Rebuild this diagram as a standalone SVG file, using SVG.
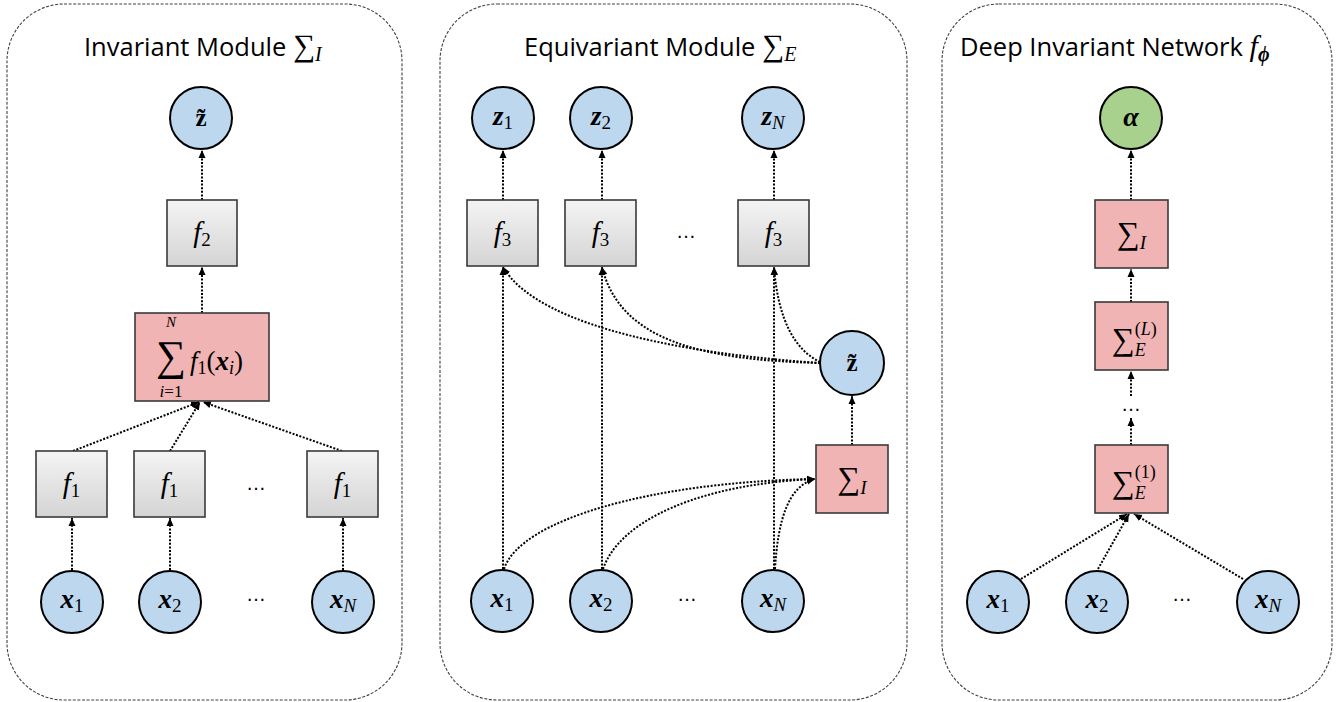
<svg xmlns="http://www.w3.org/2000/svg" width="1341" height="702" viewBox="0 0 1341 702">
<defs>
<linearGradient id="gray" x1="0" y1="0" x2="0" y2="1">
<stop offset="0" stop-color="#f4f4f4"/>
<stop offset="1" stop-color="#d4d4d4"/>
</linearGradient>
<marker id="arr" markerUnits="userSpaceOnUse" markerWidth="10" markerHeight="8" refX="8" refY="4" orient="auto">
<path d="M0,0.5 L8,4 L0,7.5 z" fill="#000"/>
</marker>
<style>
.panel{fill:#fff;stroke:#404040;stroke-width:1.1;stroke-dasharray:3 1.6}
.title{font-family:"Open Sans","Liberation Sans",sans-serif;font-size:25.5px;fill:#000}
.m{font-family:"Liberation Serif","DejaVu Serif",serif;fill:#000}
.it{font-style:italic}
.bi{font-style:italic;font-weight:bold}
.bd{font-weight:bold}
.gbox{fill:url(#gray);stroke:#3a3a3a;stroke-width:1.6}
.pbox{fill:#f0b4b4;stroke:#3a3a3a;stroke-width:1.6}
.blue{fill:#bdd7ee;stroke:#000;stroke-width:2}
.green{fill:#a9d18e;stroke:#000;stroke-width:2}
.c{fill:none;stroke:#000;stroke-width:2;stroke-dasharray:2 1.6;marker-end:url(#arr)}
.dots{font-family:"Liberation Sans",sans-serif;font-size:20px;fill:#000}
</style>
</defs>

<rect class="panel" x="7" y="4" width="395" height="696" rx="57" ry="57"/>
<rect class="panel" x="440" y="4" width="467" height="696" rx="57" ry="57"/>
<rect class="panel" x="942" y="4" width="390" height="696" rx="57" ry="57"/>

<text class="title" x="84" y="56">Invariant Module <tspan class="m" font-size="31">∑</tspan><tspan class="m it" font-size="20" dy="5">I</tspan></text>
<text class="title" x="524" y="56">Equivariant Module <tspan class="m" font-size="31">∑</tspan><tspan class="m it" font-size="20" dy="5">E</tspan></text>
<text class="title" x="960" y="56">Deep Invariant Network <tspan class="m it" font-size="30">f</tspan><tspan class="m bi" font-size="20" dy="5">ϕ</tspan></text>

<g id="connectors">
<!-- panel 1 -->
<path class="c" d="M72,570 L72,518"/>
<path class="c" d="M170,570 L170,518"/>
<path class="c" d="M343,570 L343,518"/>
<path class="c" d="M73,451 L199,402"/>
<path class="c" d="M170,451 L200,402"/>
<path class="c" d="M342,451 L203,402"/>
<path class="c" d="M202,313 L202,267"/>
<path class="c" d="M202,200 L202,150"/>
<!-- panel 2 -->
<path class="c" d="M503,569 L503,267"/>
<path class="c" d="M602,569 L602,267"/>
<path class="c" d="M774,569 L774,267"/>
<path class="c" d="M504,569 C520,520 650,482 815,479"/>
<path class="c" d="M603,569 C620,520 700,484 815,479"/>
<path class="c" d="M775,569 C778,520 788,486 815,479"/>
<path class="c" d="M852,445 L852,396"/>
<path class="c" d="M820,363 C700,355 540,330 503,267"/>
<path class="c" d="M820,363 C700,360 620,340 602,267"/>
<path class="c" d="M820,362 C795,350 778,320 774,267"/>
<path class="c" d="M503,200 L503,150"/>
<path class="c" d="M602,200 L602,150"/>
<path class="c" d="M774,200 L774,150"/>
<!-- panel 3 -->
<path class="c" d="M1021,579 L1127,514"/>
<path class="c" d="M1098,569 L1129,514"/>
<path class="c" d="M1243,579 L1134,514"/>
<path class="c" d="M1131,445 L1131,418"/>
<path class="c" d="M1131,396 L1131,371"/>
<path class="c" d="M1131,302 L1131,269"/>
<path class="c" d="M1131,200 L1131,150"/>
</g>

<!-- Panel 1 nodes -->
<g id="p1-ztilde"><circle class="blue" cx="201" cy="118" r="31"/><text class="m bd" x="201" y="126" font-size="25" text-anchor="middle">z̃</text></g>
<g id="p1-f2"><rect class="gbox" x="167" y="200" width="70" height="66"/><text class="m" x="202" y="242" font-size="29" text-anchor="middle"><tspan class="it">f</tspan><tspan font-size="19" dy="4">2</tspan></text></g>
<g id="p1-sum"><rect class="pbox" x="135" y="313" width="134" height="88"/>
<text class="m" text-anchor="middle"><tspan class="it" x="171" y="327" font-size="15">N</tspan><tspan x="171" y="370" font-size="42">∑</tspan><tspan x="171" y="397" font-size="17"><tspan class="it">i</tspan>=1</tspan></text>
<text class="m" x="190" y="370" font-size="27"><tspan class="it">f</tspan><tspan font-size="18" dy="4">1</tspan><tspan dy="-4">(</tspan><tspan class="bi">x</tspan><tspan class="it" font-size="18" dy="4">i</tspan><tspan dy="-4">)</tspan></text></g>
<g id="p1-f1a"><rect class="gbox" x="36" y="451" width="71" height="66"/><text class="m" x="71.5" y="493" font-size="29" text-anchor="middle"><tspan class="it">f</tspan><tspan font-size="19" dy="4">1</tspan></text></g>
<g id="p1-f1b"><rect class="gbox" x="134" y="451" width="71" height="66"/><text class="m" x="169.5" y="493" font-size="29" text-anchor="middle"><tspan class="it">f</tspan><tspan font-size="19" dy="4">1</tspan></text></g>
<g id="p1-f1n"><rect class="gbox" x="307" y="451" width="71" height="66"/><text class="m" x="342.5" y="493" font-size="29" text-anchor="middle"><tspan class="it">f</tspan><tspan font-size="19" dy="4">1</tspan></text></g>
<g id="p1-x1"><circle class="blue" cx="72" cy="602" r="31"/><text class="m" x="72" y="608" font-size="27" text-anchor="middle"><tspan class="bi">x</tspan><tspan font-size="19" dy="4">1</tspan></text></g>
<g id="p1-x2"><circle class="blue" cx="170" cy="602" r="31"/><text class="m" x="170" y="608" font-size="27" text-anchor="middle"><tspan class="bi">x</tspan><tspan font-size="19" dy="4">2</tspan></text></g>
<g id="p1-xn"><circle class="blue" cx="343" cy="602" r="31"/><text class="m" x="343" y="608" font-size="27" text-anchor="middle"><tspan class="bi">x</tspan><tspan class="it" font-size="19" dy="4">N</tspan></text></g>
<text class="dots" x="256" y="490" text-anchor="middle">…</text>
<text class="dots" x="256" y="601" text-anchor="middle">…</text>

<!-- Panel 2 nodes -->
<g id="p2-z1"><circle class="blue" cx="503" cy="118" r="31"/><text class="m" x="503" y="125" font-size="27" text-anchor="middle"><tspan class="bi">z</tspan><tspan font-size="19" dy="4">1</tspan></text></g>
<g id="p2-z2"><circle class="blue" cx="601" cy="118" r="31"/><text class="m" x="601" y="125" font-size="27" text-anchor="middle"><tspan class="bi">z</tspan><tspan font-size="19" dy="4">2</tspan></text></g>
<g id="p2-zn"><circle class="blue" cx="773" cy="118" r="31"/><text class="m" x="773" y="125" font-size="27" text-anchor="middle"><tspan class="bi">z</tspan><tspan class="it" font-size="19" dy="4">N</tspan></text></g>
<g id="p2-f3a"><rect class="gbox" x="467" y="200" width="71" height="66"/><text class="m" x="502.5" y="242" font-size="29" text-anchor="middle"><tspan class="it">f</tspan><tspan font-size="19" dy="4">3</tspan></text></g>
<g id="p2-f3b"><rect class="gbox" x="565" y="200" width="71" height="66"/><text class="m" x="600.5" y="242" font-size="29" text-anchor="middle"><tspan class="it">f</tspan><tspan font-size="19" dy="4">3</tspan></text></g>
<g id="p2-f3n"><rect class="gbox" x="738" y="200" width="71" height="66"/><text class="m" x="773.5" y="242" font-size="29" text-anchor="middle"><tspan class="it">f</tspan><tspan font-size="19" dy="4">3</tspan></text></g>
<text class="dots" x="686" y="238" text-anchor="middle">…</text>
<g id="p2-ztilde"><circle class="blue" cx="852" cy="363" r="32"/><text class="m bd" x="852" y="371" font-size="25" text-anchor="middle">z̃</text></g>
<g id="p2-sumI"><rect class="pbox" x="816" y="445" width="72" height="68"/><text class="m" x="852" y="489" font-size="32" text-anchor="middle">∑<tspan class="it" font-size="19" dy="5">I</tspan></text></g>
<g id="p2-x1"><circle class="blue" cx="502" cy="601" r="31"/><text class="m" x="502" y="607" font-size="27" text-anchor="middle"><tspan class="bi">x</tspan><tspan font-size="19" dy="4">1</tspan></text></g>
<g id="p2-x2"><circle class="blue" cx="601" cy="601" r="31"/><text class="m" x="601" y="607" font-size="27" text-anchor="middle"><tspan class="bi">x</tspan><tspan font-size="19" dy="4">2</tspan></text></g>
<g id="p2-xn"><circle class="blue" cx="773" cy="601" r="31"/><text class="m" x="773" y="607" font-size="27" text-anchor="middle"><tspan class="bi">x</tspan><tspan class="it" font-size="19" dy="4">N</tspan></text></g>
<text class="dots" x="687" y="601" text-anchor="middle">…</text>

<!-- Panel 3 nodes -->
<g id="p3-alpha"><circle class="green" cx="1131" cy="118" r="31"/><text class="m bi" x="1131" y="126" font-size="28" text-anchor="middle">α</text></g>
<g id="p3-sumI"><rect class="pbox" x="1095" y="200" width="73" height="68"/><text class="m" x="1131.5" y="244" font-size="32" text-anchor="middle">∑<tspan class="it" font-size="19" dy="5">I</tspan></text></g>
<g id="p3-sumEL"><rect class="pbox" x="1095" y="302" width="73" height="68"/><text class="m" x="1112" y="350" font-size="32">∑<tspan class="it" font-size="18" dy="6">E</tspan><tspan font-size="18" dx="-11" dy="-21">(</tspan><tspan class="it" font-size="18">L</tspan><tspan font-size="18">)</tspan></text></g>
<text class="dots" x="1131" y="411" text-anchor="middle">…</text>
<g id="p3-sumE1"><rect class="pbox" x="1095" y="445" width="73" height="68"/><text class="m" x="1112" y="493" font-size="32">∑<tspan class="it" font-size="18" dy="6">E</tspan><tspan font-size="18" dx="-11" dy="-21">(1)</tspan></text></g>
<g id="p3-x1"><circle class="blue" cx="998" cy="602" r="31"/><text class="m" x="998" y="608" font-size="27" text-anchor="middle"><tspan class="bi">x</tspan><tspan font-size="19" dy="4">1</tspan></text></g>
<g id="p3-x2"><circle class="blue" cx="1097" cy="602" r="31"/><text class="m" x="1097" y="608" font-size="27" text-anchor="middle"><tspan class="bi">x</tspan><tspan font-size="19" dy="4">2</tspan></text></g>
<g id="p3-xn"><circle class="blue" cx="1268" cy="602" r="31"/><text class="m" x="1268" y="608" font-size="27" text-anchor="middle"><tspan class="bi">x</tspan><tspan class="it" font-size="19" dy="4">N</tspan></text></g>
<text class="dots" x="1182" y="601" text-anchor="middle">…</text>
</svg>
